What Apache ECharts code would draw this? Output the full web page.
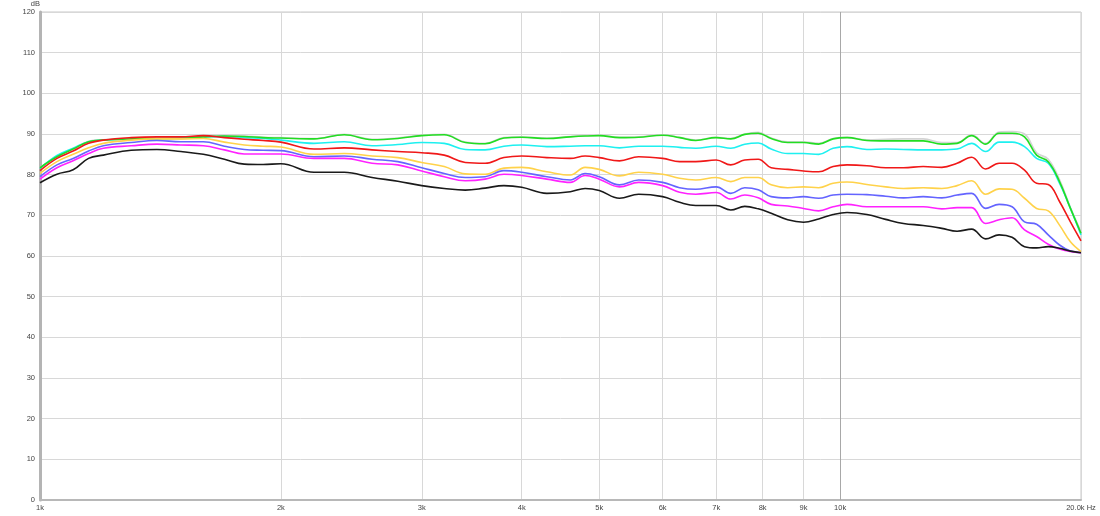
<!DOCTYPE html>
<html><head><meta charset="utf-8">
<script src="https://cdn.jsdelivr.net/npm/echarts@6/dist/echarts.min.js"></script>
<style>html,body{margin:0;padding:0;background:#fff}#c{width:1100px;height:516px}</style>
</head><body><div id="c"></div>
<script>
const freqs = [1000,1050,1100,1150,1200,1300,1400,1500,1600,1700,1800,1900,2000,2200,2400,2600,2800,3000,3200,3400,3600,3800,4000,4300,4600,4800,5000,5300,5600,6000,6300,6600,7000,7300,7600,7900,8200,8600,9000,9400,9800,10200,10800,11400,12000,12700,13400,14000,14600,15200,15800,16400,17000,17600,18200,18800,19400,20000];
const xTicks = [1000,2000,3000,4000,5000,6000,7000,8000,9000,10000,20000];
const yTicks = [0,10,20,30,40,50,60,70,80,90,100,110,120];

const gray = [81.8,84.5,86.4,88.2,88.6,88.9,89.0,89.0,89.4,89.6,89.5,89.2,89.1,88.9,89.9,88.7,89.0,89.7,89.9,88.0,87.7,89.1,89.3,89.0,89.4,89.6,89.7,89.2,89.3,89.8,89.2,88.5,89.2,88.9,90.0,90.4,89.0,88.1,88.1,87.7,88.9,89.2,88.6,88.7,88.8,88.8,87.9,87.9,89.8,87.7,90.5,90.6,90.0,85.4,83.8,78.8,72.0,66.0];
const green = [81.7,84.4,86.3,88.1,88.5,88.8,88.9,88.9,89.3,89.5,89.4,89.1,89.0,88.8,89.8,88.6,88.9,89.6,89.8,87.9,87.6,89.0,89.2,88.9,89.3,89.5,89.6,89.1,89.2,89.7,89.1,88.4,89.1,88.8,89.9,90.2,88.9,87.9,87.9,87.5,88.8,89.1,88.4,88.3,88.3,88.3,87.5,87.7,89.6,87.5,90.2,90.2,89.3,84.8,83.2,78.3,71.7,65.6];
const cyan = [81.5,84.7,86.5,88.1,88.5,88.7,88.8,89.0,89.3,89.4,89.1,88.9,88.5,87.7,88.1,87.1,87.4,87.9,87.7,86.2,86.1,87.0,87.3,86.9,87.0,87.1,87.1,86.6,87.0,87.0,86.7,86.5,87.0,86.5,87.5,87.8,86.3,85.2,85.2,85.0,86.5,86.9,86.2,86.3,86.2,86.1,86.1,86.3,87.7,85.7,88.0,88.0,86.9,84.0,82.8,77.9,71.7,65.2];
const red = [81.0,84.0,85.8,87.7,88.5,89.1,89.3,89.3,89.6,89.1,88.7,88.4,88.0,86.3,86.6,86.1,85.7,85.4,84.8,83.0,82.8,84.2,84.6,84.2,84.0,84.6,84.2,83.4,84.4,84.0,83.2,83.2,83.6,82.4,83.6,83.8,81.7,81.3,80.9,80.7,82.0,82.4,82.2,81.7,81.7,82.0,81.8,82.8,84.3,81.4,82.8,82.8,81.1,77.9,77.6,73.4,68.4,63.7];
const yellow = [80.3,83.2,85.0,86.6,87.7,88.5,88.8,88.8,88.9,88.0,87.3,87.0,86.8,85.0,85.2,84.6,84.2,83.0,82.0,80.2,80.1,81.6,81.8,80.7,79.9,81.8,81.3,79.7,80.6,80.1,79.1,78.7,79.3,78.3,79.3,79.3,77.5,76.8,77.0,76.8,77.9,78.2,77.6,77.0,76.6,76.8,76.6,77.3,78.5,75.2,76.5,76.4,74.2,71.7,71.1,67.6,63.5,61.1];
const blue = [79.5,82.4,84.0,85.8,87.1,87.9,88.4,88.1,88.1,87.0,86.2,86.0,85.9,84.4,84.6,83.8,83.2,81.7,80.3,79.3,79.5,81.0,80.6,79.5,78.7,80.3,79.5,77.5,78.7,78.1,76.8,76.4,77.0,75.4,76.8,76.3,74.6,74.3,74.6,74.2,75.0,75.2,75.1,74.7,74.3,74.6,74.3,75.0,75.4,71.7,72.7,72.1,68.4,67.8,65.2,62.7,61.2,60.8];
const magenta = [78.9,81.7,83.4,85.2,86.5,87.1,87.5,87.3,87.1,86.1,85.1,85.1,85.1,84.0,84.0,82.8,82.4,80.9,79.5,78.5,78.9,80.1,79.8,78.9,78.1,79.8,78.9,77.0,78.1,77.3,75.7,75.2,75.6,74.0,75.0,74.3,72.7,72.3,71.7,71.1,72.1,72.7,72.1,72.1,72.1,72.1,71.6,71.9,71.9,68.0,68.9,69.4,66.4,64.8,62.9,61.7,61.1,60.8];
const black = [78.0,80.1,81.2,84.0,84.8,86.0,86.2,85.7,85.0,83.8,82.6,82.5,82.7,80.6,80.6,79.3,78.4,77.3,76.6,76.2,76.7,77.3,76.9,75.4,75.8,76.6,76.1,74.2,75.2,74.6,73.2,72.4,72.4,71.3,72.2,71.6,70.5,68.9,68.3,69.1,70.2,70.7,70.2,69.0,68.0,67.5,66.8,66.1,66.6,64.2,65.2,64.6,62.3,62.0,62.3,61.9,61.2,60.8];

const seriesDefs = [
  ['gray', gray, '#d4d4d4'],
  ['cyan', cyan, '#1ef0f0'],
  ['green', green, '#22dd22'],
  ['red', red, '#f01818'],
  ['yellow', yellow, '#ffd24a'],
  ['blue', blue, '#6464ff'],
  ['magenta', magenta, '#ff22ff'],
  ['black', black, '#1a1a1a']
];

const chart = echarts.init(document.getElementById('c'), null, {renderer: 'canvas'});
const series = seriesDefs.map(([name, vals, color], i) => ({
  name, type: 'line', smooth: 0.4, showSymbol: false, symbol: 'none',
  data: freqs.map((f, k) => [f, vals[k]]),
  lineStyle: {color, width: 1.6}, itemStyle: {color},
  z: 3 + i, silent: true, animation: false
}));
series.push({
  type: 'line', data: [], silent: true, animation: false,
  markLine: {silent: true, symbol: 'none', label: {show: false},
    lineStyle: {color: '#a8a8a8', width: 1, type: 'solid'},
    data: [{xAxis: 10000}]}
});
chart.setOption({
  animation: false,
  backgroundColor: '#fff',
  grid: {left: 40, right: 19, top: 12, bottom: 16, show: true, borderColor: '#c8c8c8', borderWidth: 1},
  xAxis: {
    type: 'log', logBase: 10, min: 1000, max: 20000,
    axisLine: {show: true, lineStyle: {color: '#b8b8b8', width: 2}},
    axisTick: {show: false, customValues: xTicks},
    axisLabel: {customValues: xTicks, fontSize: 7.5, color: '#444', margin: 4, fontFamily: 'Liberation Sans, Arial',
      formatter: v => v >= 20000 ? '20.0k Hz' : (Math.round(v / 1000) + 'k')},
    splitLine: {show: true, lineStyle: {color: '#d8d8d8', width: 1}}
  },
  yAxis: {
    type: 'value', min: 0, max: 120, interval: 10,
    name: 'dB', nameLocation: 'end', nameGap: 2,
    nameTextStyle: {fontSize: 7.5, color: '#444', align: 'right', padding: [0, 0, 0, 0], fontFamily: 'Liberation Sans, Arial'},
    axisLine: {show: true, lineStyle: {color: '#b4b4b4', width: 3}},
    axisTick: {show: false},
    axisLabel: {fontSize: 7.5, color: '#444', margin: 5, fontFamily: 'Liberation Sans, Arial'},
    splitLine: {show: true, lineStyle: {color: '#d8d8d8', width: 1}}
  },
  series
});
</script></body></html>
